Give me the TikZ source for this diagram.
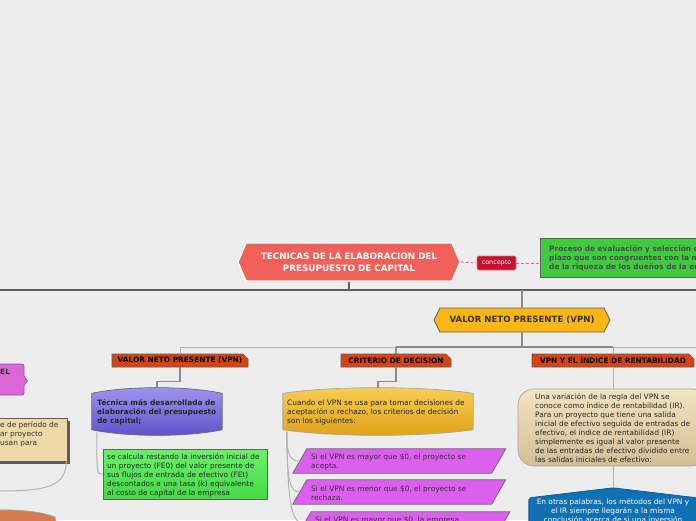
\documentclass[tikz,border=0pt]{standalone}
\usepackage{fontspec}
\setmainfont{DejaVu Sans}
\usetikzlibrary{shapes.symbols,shapes.misc,calc}
\definecolor{bgc}{HTML}{EDEDED}
\definecolor{titlered}{HTML}{F16059}
\definecolor{concred}{HTML}{C8102E}
\definecolor{concgreen}{HTML}{3ECC3E}
\definecolor{amber}{HTML}{FDB714}
\definecolor{tagred}{HTML}{D64510}
\definecolor{grntop}{HTML}{6AF06A}
\definecolor{grnbot}{HTML}{44DA44}
\definecolor{magc}{HTML}{DD5FF0}
\definecolor{goldtop}{HTML}{F9CF55}
\definecolor{goldbot}{HTML}{DFA117}
\definecolor{purtop}{HTML}{A095F0}
\definecolor{purbot}{HTML}{5F50C8}
\definecolor{irtop}{HTML}{F3E3C0}
\definecolor{irbot}{HTML}{D3BE96}
\definecolor{bluec}{HTML}{0F70B4}
\definecolor{pinkc}{HTML}{DB66D6}
\definecolor{tanc}{HTML}{EED9A9}
\definecolor{brownc}{HTML}{D67A50}
\definecolor{txtc}{HTML}{333333}
\definecolor{dashc}{HTML}{E06A7C}
\definecolor{darkln}{HTML}{5E5E5E}
\definecolor{midln}{HTML}{8A8A8A}
\definecolor{lightln}{HTML}{B2B2B2}
\tikzset{
  body/.style={inner sep=0, align=left, font=\fontsize{7.4}{9}\selectfont, text=txtc},
  bodyb/.style={inner sep=0, align=left, font=\fontsize{7.4}{9}\selectfont\bfseries, text=txtc},
  tag/.style={chamfered rectangle, chamfered rectangle corners=north east,
    chamfered rectangle xsep=2.5pt, chamfered rectangle ysep=2.5pt,
    fill=tagred, draw=darkln, line width=0.7, minimum height=13, inner sep=0,
    font=\fontsize{7.4}{8}\selectfont\bfseries, text=black},
  hexa/.style={signal, signal to=west and east, inner sep=0},
  bbone/.style={draw=darkln, line width=2},
  dconn/.style={draw=darkln, line width=1.4},
  mconn/.style={draw=midln, line width=1.1},
  lconn/.style={draw=lightln, line width=1},
  dashconn/.style={draw=dashc, line width=0.9, dash pattern=on 3pt off 2pt},
}
\begin{document}
\begin{tikzpicture}[x=1pt,y=-1pt]
\useasboundingbox (0,0) rectangle (696,520);
\clip (0,0) rectangle (696,520);
\fill[bgc] (0,0) rectangle (696,520);

% ---------- partial elements on the left edge
\draw[fill=pinkc, draw=pinkc!75!black, line width=0.7, rounded corners=2]
  (-40,364) -- (24,364) -- (24,378) -- (28.5,381) -- (24,384) -- (24,395) -- (-40,395) -- cycle;
\node[bodyb, anchor=west] (pinkt) at (0,372) {EL};

\fill[darkln] (-40,420.5) rectangle (69.5,463.5);
\node[draw=darkln, fill=tanc, line width=0.7, minimum width=107, minimum height=43, inner sep=0] (tanl) at (13.5,439.5) {};
\node[body, anchor=north west] (tant) at (0,421.5) {e de período de\\ar proyecto\\usan para};
\coordinate (offl) at (-5,491);
\draw[lconn] ($(tanl.south east)+(-1,0)$) .. controls ($(tanl.south east)+(-1,28)$) and ($(offl)+(45,0)$) .. (offl);

\draw[fill=brownc, draw=gray!70, line width=0.7]
  (-40,530) -- (-40,512) .. controls (0,508.5) and (35,509) .. (55,517) -- (58,530) -- cycle;

% ---------- root
\coordinate (hl) at (0,290);
\coordinate (hr) at (696,290);
\draw[bbone] (hl) -- (hr);

\node[hexa, signal pointer angle=134, fill=titlered, draw=white, line width=1.3,
  minimum width=222, minimum height=38, text=white, align=center,
  font=\fontsize{8.8}{12}\selectfont\bfseries] (main) at (349,262)
  {TECNICAS DE LA ELABORACION DEL\\PRESUPUESTO DE CAPITAL};
\draw[dconn] (main.south) -- (main.south |- hl);

\node[fill=concred, draw=concred!60!white, line width=0.6, rounded corners=2, minimum width=39, minimum height=14,
  inner sep=0, text=white, font=\fontsize{6.4}{7}\selectfont] (concepto) at (496.5,263) {concepto};
\node[fill=concgreen, draw=darkln, line width=1, minimum width=260, minimum height=39, inner sep=0] (defbox) at (670,257.5) {};
\node[bodyb, anchor=west, text=darkln!80!black] (deft) at (549,258)
  {Proceso de evaluación y selección de inversiones a largo\\plazo que son congruentes con la meta de maximización\\de la riqueza de los dueños de la empresa.};
\draw[dashconn] (main.east) -- (concepto.west);
\draw[dashconn] (concepto.east) -- (concepto.east -| defbox.west);

% ---------- VPN
\node[hexa, signal pointer angle=127, fill=amber, draw=darkln, line width=0.8,
  minimum width=176, minimum height=24, text=txtc,
  font=\fontsize{8.6}{9}\selectfont\bfseries] (vpn) at (522,320) {VALOR NETO PRESENTE (VPN)};
\draw[mconn] (vpn.north |- hl) -- (vpn.north);

\coordinate (l2a) at (180,347);
\coordinate (l2b) at (696,347);
\draw[lconn] (l2a) -- (l2b);
\draw[mconn] (vpn.south) -- (vpn.south |- l2a);

\node[tag, minimum width=136] (t1) at (180,360.5) {VALOR NETO PRESENTE (VPN)};
\node[tag, minimum width=110] (t2) at (396,360.5) {CRITERIO DE DECISION};
\node[tag, minimum width=162] (t3) at (613,360.5) {VPN Y EL ÍNDICE DE RENTABILIDAD};
\draw[lconn] (t1.north |- l2a) -- (t1.north);
\draw[mconn] (t2.north |- l2a) -- (t3.north |- l2a);
\draw[mconn] (t2.north |- l2a) -- (t2.north);
\draw[lconn] (t3.north |- l2a) -- (t3.north);

% ---------- branch 1
\node[inner sep=0, minimum width=130, minimum height=46] (tec) at (157,411.5) {};
\shadedraw[top color=purtop, bottom color=purbot, draw=gray!80!black, line width=0.7]
  ($(tec.north west)+(0,5)$) .. controls ($(tec.north west)+(35,-2.5)$) and ($(tec.north east)+(-35,-2.5)$) .. ($(tec.north east)+(0,5)$)
  -- ($(tec.south east)+(0,-5)$) .. controls ($(tec.south east)+(-35,2.5)$) and ($(tec.south west)+(35,2.5)$) .. ($(tec.south west)+(0,-5)$) -- cycle;
\node[bodyb, anchor=west, text=black!85] (tect) at (97,412.5) {Técnica más desarrollada de\\elaboración del presupuesto\\de capital;};
\draw[mconn] (t1.south) -- ++(0,14) -| (tec.north);

\node[draw=gray!75!black, line width=0.7, top color=grntop, bottom color=grnbot, minimum width=164, minimum height=50, inner sep=0] (calc) at (185,474) {};
\node[body, anchor=west, text=black!85] (calct) at (107,475.5)
  {se calcula restando la inversión inicial de\\un proyecto (FE0) del valor presente de\\sus flujos de entrada de efectivo (FEt)\\descontados a una tasa (k) equivalente\\al costo de capital de la empresa};
\draw[lconn] ($(tec.south west)+(5,-3)$) .. controls ($(tec.south west)+(5,40)$) and ($(calc.west)+(-6,0)$) .. (calc.west);

% ---------- branch 2
\node[inner sep=0, minimum width=190, minimum height=46] (gold) at (378,411.5) {};
\shadedraw[top color=goldtop, bottom color=goldbot, draw=gray!70, line width=0.7]
  ($(gold.north west)+(0,5)$) .. controls ($(gold.north west)+(50,-2.5)$) and ($(gold.north east)+(-50,-2.5)$) .. ($(gold.north east)+(0,5)$)
  -- ($(gold.south east)+(0,-5)$) .. controls ($(gold.south east)+(-50,2.5)$) and ($(gold.south west)+(50,2.5)$) .. ($(gold.south west)+(0,-5)$) -- cycle;
\node[body, anchor=west, text=black!85] (goldt) at (287,412.5)
  {Cuando el VPN se usa para tomar decisiones de\\aceptación o rechazo, los criterios de decisión\\son los siguientes:};
\draw[mconn] (t2.south) -- ++(0,14) -| (gold.north);

\node[inner sep=0, minimum width=198.5, minimum height=24] (p1) at (399.25,461) {};
\node[inner sep=0, minimum width=198.5, minimum height=24] (p2) at (399.25,492) {};
\node[inner sep=0, minimum width=198.5, minimum height=24] (p3) at (403.5,524) {};
\foreach \p in {p1,p2,p3}{
  \draw[fill=magc, draw=gray!80!black, line width=0.7]
    ($(\p.south west)+(-7,0)$) -- ($(\p.north west)+(7,0)$) -- ($(\p.north east)+(7,0)$) -- ($(\p.south east)+(-7,0)$) -- cycle;
}
\node[body, anchor=west] (p1t) at (311,462) {Si el VPN es mayor que \$0, el proyecto se\\acepta.};
\node[body, anchor=west] (p2t) at (311,493) {Si el VPN es menor que \$0, el proyecto se\\rechaza.};
\node[body, anchor=west] (p3t) at (315,520.5) {Si el VPN es mayor que \$0, la empresa};
\draw[lconn] ($(gold.south west)+(4,-3)$) .. controls ($(gold.south west)+(4,22)$) and ($(p1.west)+(-9,0)$) .. (p1.west);
\draw[lconn] ($(gold.south west)+(4,-3)$) .. controls ($(gold.south west)+(4,50)$) and ($(p2.west)+(-9,0)$) .. (p2.west);
\draw[lconn] ($(gold.south west)+(4,-3)$) .. controls ($(gold.south west)+(5,75)$) and ($(p3.west)+(-12,-2)$) .. (p3.west);

% ---------- branch 3
\node[draw=gray!70, line width=0.7, top color=irtop, bottom color=irbot, rounded corners=16,
  minimum width=190, minimum height=77, inner sep=0] (ir) at (613,427.5) {};
\node[body, anchor=west, text=black!85] (irt) at (535,428.5)
  {Una variación de la regla del VPN se\\conoce como índice de rentabilidad (IR).\\Para un proyecto que tiene una salida\\inicial de efectivo seguida de entradas de\\efectivo, el índice de rentabilidad (IR)\\simplemente es igual al valor presente\\de las entradas de efectivo dividido entre\\las salidas iniciales de efectivo:};
\draw[lconn] (t3.south) -- (ir.north);

\node[inner sep=0, minimum width=168, minimum height=52] (blue) at (613,514) {};
\draw[fill=bluec, draw=bluec!80!black, line width=0.7, rounded corners=2]
  (blue.south west) -- ($(blue.north west)+(0,10)$) -- (blue.north) -- ($(blue.north east)+(0,10)$) -- (blue.south east) -- cycle;
\node[body, align=center, text=white, anchor=north] (bluet) at (613,498.5)
  {En otras palabras, los métodos del VPN y\\el IR siempre llegarán a la misma\\conclusión acerca de si una inversión};
\draw[lconn] (ir.south) -- (blue.north);
\end{tikzpicture}
\end{document}
